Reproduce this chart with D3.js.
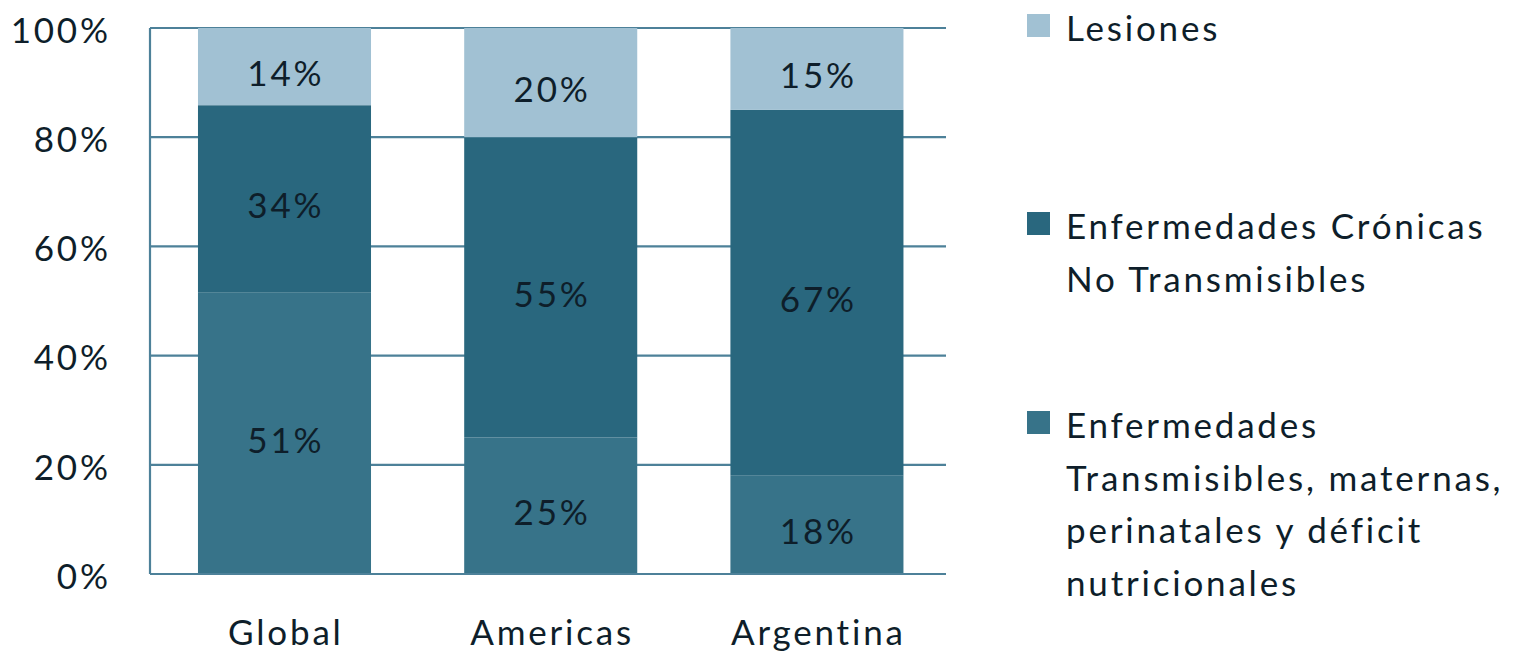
<!DOCTYPE html>
<html>
<head>
<meta charset="utf-8">
<script src="https://cdn.jsdelivr.net/npm/d3@7"></script>
<style>
  html, body { margin: 0; padding: 0; background: #fff; }
  svg text { font-family: Lato, "Open Sans", sans-serif; fill: #0e1e2a; letter-spacing: 2.8px; }
</style>
</head>
<body>
<svg id="chart" width="1516" height="654"></svg>
<script>
// Regions on the x axis
const categories = ["Global", "Americas", "Argentina"];
// Share of burden per cause group (percent), bottom to top of each stack
const transmisibles = [51, 25, 18];
const cronicas = [34, 55, 67];
const lesiones = [14, 20, 15];
const yTicks = [0, 20, 40, 60, 80, 100];

const seriesNames = [
  "Enfermedades Transmisibles, maternas, perinatales y déficit nutricionales",
  "Enfermedades Crónicas No Transmisibles",
  "Lesiones"
];
const seriesValues = [transmisibles, cronicas, lesiones];
const colors = ["#377389", "#29677e", "#a1c1d3"];
const legendLines = [
  ["Enfermedades", "Transmisibles, maternas,", "perinatales y déficit", "nutricionales"],
  ["Enfermedades Crónicas", "No Transmisibles"],
  ["Lesiones"]
];

const svg = d3.select("#chart");
const margin = { left: 150, right: 570, top: 28, bottom: 80 };
const W = 1516, H = 654;
const LS = 2.8; // letter spacing, trailing gap compensation for end/middle anchors

const x = d3.scaleBand().domain(categories)
  .range([margin.left, W - margin.right])
  .paddingInner(0.35).paddingOuter(0.17).align(0.53);
const y = d3.scaleLinear().domain([0, 100]).range([H - margin.bottom, margin.top]);

// Build rows, normalising each column to 100%
const rows = categories.map((c, i) => {
  const r = { cat: c };
  const tot = d3.sum(seriesValues, s => s[i]);
  seriesNames.forEach((n, k) => { r[n] = seriesValues[k][i] / tot * 100; r["_" + n] = seriesValues[k][i]; });
  return r;
});
const stack = d3.stack().keys(seriesNames)(rows);

const gridColor = "#4d8199";

// gridlines
svg.append("g").selectAll("line").data(yTicks).join("line")
  .attr("x1", margin.left).attr("x2", W - margin.right)
  .attr("y1", d => y(d)).attr("y2", d => y(d))
  .attr("stroke", gridColor).attr("stroke-width", 2.2);

// left axis line
svg.append("line")
  .attr("x1", margin.left).attr("x2", margin.left)
  .attr("y1", y(100)).attr("y2", y(0))
  .attr("stroke", gridColor).attr("stroke-width", 2.2);

// y tick labels
svg.append("g").selectAll("text").data(yTicks).join("text")
  .attr("x", 108 + LS).attr("y", d => y(d))
  .attr("dy", "0.42em")
  .attr("text-anchor", "end")
  .attr("font-size", 35)
  .text(d => d + "%");

// bars
const layers = svg.append("g").selectAll("g").data(stack).join("g")
  .attr("fill", (d, i) => colors[i]);
layers.selectAll("rect").data(d => d).join("rect")
  .attr("x", d => x(d.data.cat))
  .attr("width", x.bandwidth())
  .attr("y", d => y(d[1]))
  .attr("height", d => y(d[0]) - y(d[1]));

// segment value labels
stack.forEach(layer => {
  svg.append("g").selectAll("text").data(layer).join("text")
    .attr("x", d => x(d.data.cat) + x.bandwidth() / 2 + LS / 2)
    .attr("y", d => y((d[0] + d[1]) / 2))
    .attr("dy", "0.55em")
    .attr("text-anchor", "middle")
    .attr("font-size", 35)
    .text(d => d.data["_" + layer.key] + "%");
});

// bottom axis line on top
svg.append("line")
  .attr("x1", margin.left).attr("x2", W - margin.right)
  .attr("y1", y(0)).attr("y2", y(0))
  .attr("stroke", gridColor).attr("stroke-width", 2.2);

// category labels
svg.append("g").selectAll("text").data(categories).join("text")
  .attr("x", d => x(d) + x.bandwidth() / 2 + LS / 2)
  .attr("y", 645)
  .attr("text-anchor", "middle")
  .attr("font-size", 35)
  .text(d => d);

// legend (top item is the top of the stack)
const legendTop = [
  { k: 2, sq: 14 },
  { k: 1, sq: 212 },
  { k: 0, sq: 411 }
];
const lg = svg.append("g");
legendTop.forEach(item => {
  lg.append("rect")
    .attr("x", 1027).attr("y", item.sq)
    .attr("width", 23).attr("height", 23)
    .attr("fill", colors[item.k]);
  const t = lg.append("text")
    .attr("x", 1066).attr("y", item.sq + 27)
    .attr("font-size", 35);
  legendLines[item.k].forEach((line, j) => {
    t.append("tspan").attr("x", 1066).attr("dy", j === 0 ? 0 : 52.5).text(line);
  });
});
</script>
</body>
</html>
